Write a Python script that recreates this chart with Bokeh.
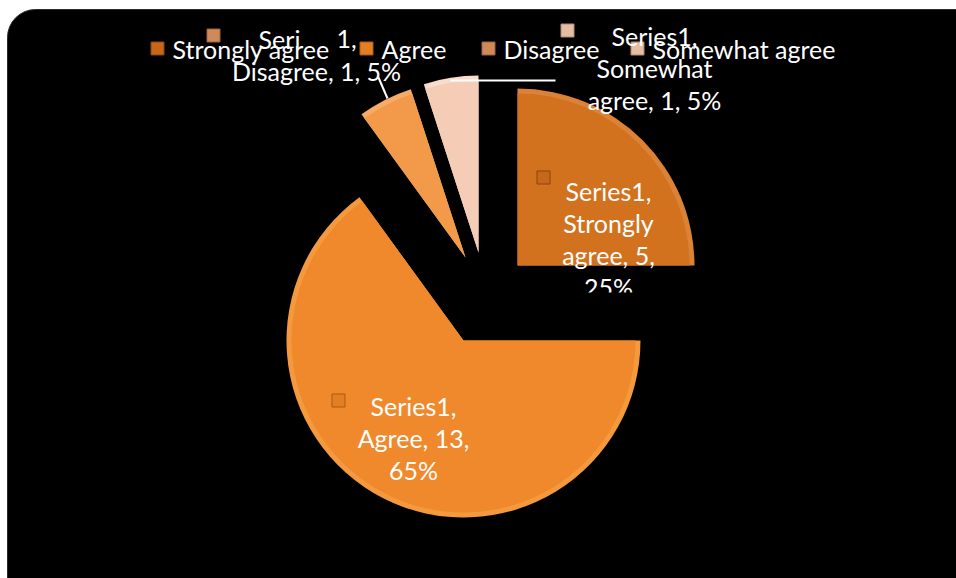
import math
from bokeh.plotting import figure
from bokeh.models import Range1d
from bokeh.core.properties import value
from bokeh.embed import file_html
from bokeh.resources import INLINE

# ---- data ----
categories = ["Strongly agree", "Agree", "Disagree", "Somewhat agree"]
values = [5, 13, 1, 1]
series_name = "Series1"
colors = ["#D2711E", "#EF892B", "#F39A4A", "#F5CDB6"]
edge_colors = ["#DC8236", "#F5993F", "#F7AB66", "#F9DCCB"]
marker_colors = ["#C8671A", "#E47E22", "#D08A5A", "#E6BCA2"]
marker_edges = ["#8A4510", "#A85A14", "#9A6440", "#B08A76"]

W, H = 956, 578
FONT = "Lato"
FS = "25px"

p = figure(width=W, height=H, x_range=Range1d(0, W), y_range=Range1d(0, H),
           output_backend="svg", toolbar_location=None, min_border=0)
p.axis.visible = False
p.grid.visible = False
p.outline_line_color = None
p.background_fill_color = "white"
p.border_fill_color = "white"

def Y(py):
    return H - py

# black rounded panel
p.quad(left=[7], right=[W + 40], top=[Y(9)], bottom=[-40],
       fill_color="black", line_color="#2a2a2a", line_width=1, border_radius=28)

# ---- pie geometry ----
total = sum(values)
cx, cy = 463, 340          # pixel centre of the un-exploded pie
R = 177
offsets = [(54, -75), (0, 0), (2, -83), (15, -88)]   # explode offsets (px)

cum = 0
starts, ends, xs, ys = [], [], [], []
for v, (dx, dy) in zip(values, offsets):
    f0 = cum / total
    cum += v
    f1 = cum / total
    starts.append(math.radians(90 - 360 * f1))
    ends.append(math.radians(90 - 360 * f0))
    xs.append(cx + dx)
    ys.append(Y(cy + dy))

# bevel: outer lighter wedge, then inner body
p.wedge(x=xs, y=ys, radius=R, start_angle=starts, end_angle=ends,
        fill_color=edge_colors, line_color=None)
p.wedge(x=xs, y=ys, radius=R - 5, start_angle=starts, end_angle=ends,
        fill_color=colors, line_color=None)

# ---- legend ----
leg_x = [157, 366, 488, 637]
leg_y = 48
p.rect(x=leg_x, y=[Y(leg_y)] * 4, width=13, height=13,
       fill_color=marker_colors, line_color=marker_edges, line_width=1)
p.text(x=[x + 15 for x in leg_x], y=[Y(leg_y)] * 4, text=categories,
       text_font=value(FONT), text_font_size=FS, text_color="white",
       text_baseline="middle", text_align="left")

# ---- data labels ----
pct = [round(100 * v / total) for v in values]
lab_lines = [
    [f"{series_name},", f"{categories[0].split()[0]}", f"{categories[0].split()[1]}, {values[0]},", f"{pct[0]}%"],
    [f"{series_name},", f"{categories[1]}, {values[1]},", f"{pct[1]}%"],
    [f"{categories[2]}, {values[2]}, {pct[2]}%"],
    [f"{series_name},", f"{categories[3].split()[0]}", f"{categories[3].split()[1]}, {values[3]}, {pct[3]}%"],
]
lab_pos = [(608, 190), (413, 405), (316, 70), (654, 35)]
line_h = 32

tx, ty, tt = [], [], []
for lines, (lx, ly) in zip(lab_lines, lab_pos):
    for i, s in enumerate(lines):
        tx.append(lx)
        ty.append(Y(ly + i * line_h))
        tt.append(s)
# partially hidden first line of the Disagree label
tx += [279, 346]
ty += [Y(38), Y(38)]
tt += ["Seri", "1,"]

p.text(x=tx, y=ty, text=tt, text_font=value(FONT), text_font_size=FS,
       text_color="white", text_baseline="middle", text_align="center")

# clip of the lower Strongly agree label line
p.quad(left=[570], right=[650], top=[Y(292)], bottom=[Y(302)],
       fill_color="black", line_color=None)

# label markers
p.rect(x=[543, 338, 213, 567], y=[Y(177), Y(400), Y(35), Y(30)],
       width=13, height=13, fill_color=marker_colors,
       line_color=marker_edges, line_width=1)

# leader lines
p.line(x=[378, 387], y=[Y(77), Y(98)], line_color="white", line_width=2)
p.line(x=[450, 555], y=[Y(80), Y(80)], line_color="white", line_width=2)

open("out.html", "w").write(file_html(p, INLINE))
